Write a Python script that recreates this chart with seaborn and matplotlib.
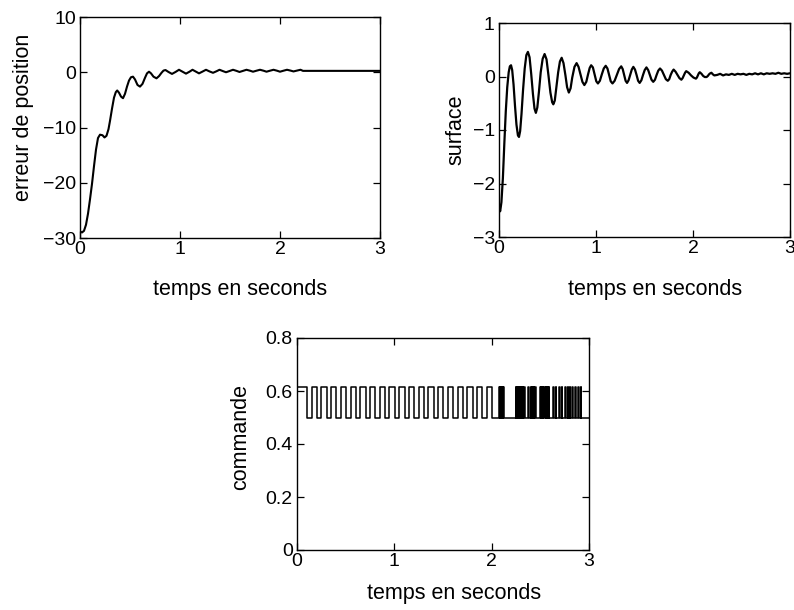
import matplotlib
matplotlib.use("Agg")
import matplotlib.pyplot as plt
import seaborn as sns
import pandas as pd

# ---------------- data ----------------
erreur_t = [0.000, 0.020, 0.040, 0.060, 0.080, 0.100, 0.120, 0.140, 0.160, 0.180, 0.200,
            0.225, 0.245, 0.265, 0.285, 0.300, 0.320, 0.340, 0.358, 0.372, 0.390, 0.410,
            0.430, 0.450, 0.470, 0.490, 0.510, 0.530, 0.550, 0.575, 0.600, 0.625, 0.650,
            0.670, 0.690, 0.710, 0.735, 0.765, 0.790, 0.815, 0.835, 0.855, 0.885, 0.920,
            0.955, 0.990, 1.025, 1.060, 1.095, 1.125, 1.160, 1.190, 1.225, 1.260, 1.295,
            1.330, 1.365, 1.395, 1.430, 1.460, 1.495, 1.530, 1.565, 1.595, 1.630, 1.665,
            1.700, 1.730, 1.765, 1.800, 1.835, 1.865, 1.900, 1.935, 1.970, 2.000, 2.035,
            2.070, 2.105, 2.135, 2.170, 2.205, 2.230, 3.000]
erreur_v = [-28.8, -29.0, -28.7, -27.6, -25.6, -23.0, -20.2, -17.0, -14.0, -11.9, -11.3,
            -11.4, -11.8, -11.5, -10.3, -8.8, -6.6, -4.6, -3.6, -3.3, -3.7, -4.4,
            -4.7, -3.9, -2.6, -1.5, -0.9, -0.8, -1.3, -2.3, -2.6, -2.1, -1.0,
            -0.2, 0.1, -0.2, -0.8, -1.1, -0.7, -0.1, 0.3, 0.4, 0.05, -0.3,
            0.05, 0.45, 0.1, -0.25, 0.1, 0.45, 0.1, -0.2, 0.12, 0.45, 0.15,
            -0.1, 0.18, 0.45, 0.2, 0.0, 0.22, 0.45, 0.25, 0.05, 0.25, 0.45,
            0.28, 0.1, 0.28, 0.45, 0.28, 0.1, 0.28, 0.45, 0.28, 0.1, 0.28,
            0.45, 0.3, 0.15, 0.3, 0.45, 0.25, 0.25]

surface_t = [0.000, 0.012, 0.025, 0.040, 0.055, 0.070, 0.085, 0.100, 0.112, 0.124, 0.136,
             0.150, 0.165, 0.180, 0.195, 0.206, 0.218, 0.232, 0.248, 0.265, 0.282, 0.298,
             0.315, 0.332, 0.350, 0.366, 0.380, 0.395, 0.412, 0.430, 0.450, 0.470, 0.490,
             0.510, 0.530, 0.548, 0.560, 0.575, 0.592, 0.610, 0.628, 0.646, 0.665, 0.685,
             0.702, 0.720, 0.738, 0.755, 0.778, 0.800, 0.820, 0.840, 0.860, 0.880, 0.900,
             0.918, 0.935, 0.950, 0.968, 0.985, 1.003, 1.020, 1.040, 1.060, 1.080, 1.100,
             1.118, 1.135, 1.152, 1.170, 1.192, 1.215, 1.238, 1.260, 1.275, 1.290, 1.305,
             1.320, 1.336, 1.352, 1.369, 1.385, 1.402, 1.418, 1.434, 1.450, 1.468, 1.485,
             1.502, 1.520, 1.538, 1.555, 1.572, 1.590, 1.608, 1.625, 1.642, 1.660, 1.680,
             1.700, 1.720, 1.740, 1.755, 1.770, 1.785, 1.800, 1.820, 1.840, 1.860, 1.880,
             1.893, 1.905, 1.918, 1.930, 1.955, 1.980, 2.005, 2.030, 2.040, 2.050, 2.060,
             2.070, 2.088, 2.105, 2.122, 2.140, 2.153, 2.165, 2.178, 2.190, 2.205, 2.220,
             2.250, 2.280, 2.310, 2.340, 2.370, 2.400, 2.430, 2.460, 2.490, 2.520, 2.550,
             2.580, 2.610, 2.640, 2.670, 2.700, 2.730, 2.760, 2.790, 2.820, 2.850, 2.880,
             2.910, 2.940, 2.970, 3.000]
surface_v = [-2.45, -2.52, -2.35, -1.90, -1.25, -0.65, -0.20, 0.08, 0.19, 0.21, 0.12,
             -0.15, -0.55, -0.90, -1.10, -1.13, -1.02, -0.70, -0.25, 0.15, 0.40, 0.46,
             0.36, 0.05, -0.33, -0.60, -0.68, -0.58, -0.28, 0.08, 0.33, 0.42, 0.32,
             0.02, -0.30, -0.48, -0.52, -0.45, -0.20, 0.08, 0.28, 0.35, 0.25, 0.02,
             -0.20, -0.30, -0.22, -0.02, 0.18, 0.25, 0.18, 0.04, -0.10, -0.16, -0.10,
             0.04, 0.16, 0.21, 0.17, 0.04, -0.09, -0.13, -0.08, 0.04, 0.15, 0.20,
             0.15, 0.03, -0.09, -0.13, -0.08, 0.03, 0.14, 0.19, 0.14, 0.03, -0.08,
             -0.12, -0.07, 0.03, 0.13, 0.18, 0.13, 0.03, -0.08, -0.12, -0.07, 0.03,
             0.12, 0.17, 0.12, 0.03, -0.06, -0.10, -0.06, 0.03, 0.11, 0.15, 0.11,
             0.03, -0.05, -0.08, -0.05, 0.03, 0.09, 0.13, 0.09, 0.03, -0.03, -0.06,
             -0.03, 0.02, 0.07, 0.10, 0.07, 0.02, -0.02, -0.04, -0.02, 0.02, 0.06,
             0.08, 0.05, 0.01, -0.01, -0.01, 0.01, 0.04, 0.06, 0.07, 0.04, 0.02,
             0.03, 0.05, 0.02, 0.04, 0.03, 0.05, 0.03, 0.05, 0.04, 0.05, 0.03,
             0.05, 0.04, 0.06, 0.04, 0.06, 0.04, 0.06, 0.05, 0.06, 0.05, 0.07,
             0.05, 0.06, 0.05, 0.06]

commande_t = [0.00, 0.10,
              0.15, 0.205, 0.25, 0.305, 0.35, 0.405, 0.45, 0.505, 0.55, 0.605,
              0.65, 0.705, 0.75, 0.805, 0.85, 0.905, 0.95, 1.005, 1.05, 1.105,
              1.15, 1.205, 1.25, 1.305, 1.35, 1.405, 1.45, 1.505, 1.55, 1.605,
              1.65, 1.705, 1.75, 1.805, 1.85, 1.905, 1.95, 2.005,
              2.08, 2.085, 2.09, 2.095, 2.10, 2.105, 2.11, 2.115, 2.12, 2.13,
              2.25, 2.255, 2.26, 2.265, 2.27, 2.275, 2.28, 2.285, 2.29, 2.295, 2.30, 2.305,
              2.31, 2.315, 2.32, 2.325, 2.33, 2.34,
              2.37, 2.38,
              2.40, 2.405, 2.41, 2.415, 2.42, 2.425, 2.43, 2.44, 2.45, 2.46,
              2.50, 2.505, 2.51, 2.515, 2.52, 2.525, 2.53, 2.54, 2.55, 2.555, 2.56, 2.565,
              2.57, 2.58, 2.585, 2.59,
              2.63, 2.64, 2.66, 2.665, 2.69, 2.70, 2.72, 2.725, 2.75, 2.76, 2.78, 2.785,
              2.80, 2.805, 2.83, 2.835, 2.86, 2.865, 2.89, 2.895, 2.915, 2.92,
              3.00]
commande_v = [0.615, 0.50,
              0.615, 0.50, 0.615, 0.50, 0.615, 0.50, 0.615, 0.50, 0.615, 0.50,
              0.615, 0.50, 0.615, 0.50, 0.615, 0.50, 0.615, 0.50, 0.615, 0.50,
              0.615, 0.50, 0.615, 0.50, 0.615, 0.50, 0.615, 0.50, 0.615, 0.50,
              0.615, 0.50, 0.615, 0.50, 0.615, 0.50, 0.615, 0.50,
              0.615, 0.50, 0.615, 0.50, 0.615, 0.50, 0.615, 0.50, 0.615, 0.50,
              0.615, 0.50, 0.615, 0.50, 0.615, 0.50, 0.615, 0.50, 0.615, 0.50, 0.615, 0.50,
              0.615, 0.50, 0.615, 0.50, 0.615, 0.50,
              0.615, 0.50,
              0.615, 0.50, 0.615, 0.50, 0.615, 0.50, 0.615, 0.50, 0.615, 0.50,
              0.615, 0.50, 0.615, 0.50, 0.615, 0.50, 0.615, 0.50, 0.615, 0.50, 0.615, 0.50,
              0.615, 0.50, 0.615, 0.50,
              0.615, 0.50, 0.615, 0.50, 0.615, 0.50, 0.615, 0.50, 0.615, 0.50, 0.615, 0.50,
              0.615, 0.50, 0.615, 0.50, 0.615, 0.50, 0.615, 0.50, 0.615, 0.50,
              0.50]

x_ticks = [0, 1, 2, 3]
erreur_ticks = [-30, -20, -10, 0, 10]
surface_ticks = [-3, -2, -1, 0, 1]
commande_ticks = [0, 0.2, 0.4, 0.6, 0.8]
commande_ticklabels = ["0", "0.2", "0.4", "0.6", "0.8"]

xlabel = "temps en seconds"

# ---------------- style ----------------
sns.set_theme(style="ticks")
plt.rcParams.update({
    "font.family": ["Liberation Sans", "DejaVu Sans"],
    "xtick.direction": "in", "ytick.direction": "in",
    "xtick.top": True, "ytick.right": True,
    "xtick.major.size": 5, "ytick.major.size": 5,
    "xtick.major.width": 0.9, "ytick.major.width": 0.9,
    "axes.linewidth": 1.0, "axes.edgecolor": "black",
    "xtick.color": "black", "ytick.color": "black",
    "xtick.labelsize": 14, "ytick.labelsize": 14,
    "axes.labelsize": 15.5, "axes.labelcolor": "black",
    "xtick.major.pad": 2, "ytick.major.pad": 3,
})

W, H = 794, 610
fig = plt.figure(figsize=(W / 100, H / 100), dpi=100)

def rect(l, t, r, b):
    return [l / W, 1 - b / H, (r - l) / W, (b - t) / H]

ax1 = fig.add_axes(rect(80, 17, 380, 238))
ax2 = fig.add_axes(rect(499, 23, 790, 237))
ax3 = fig.add_axes(rect(297, 338, 589, 550))

df1 = pd.DataFrame({"t": erreur_t, "v": erreur_v})
df2 = pd.DataFrame({"t": surface_t, "v": surface_v})
df3 = pd.DataFrame({"t": commande_t, "v": commande_v})

sns.lineplot(data=df1, x="t", y="v", ax=ax1, color="black", lw=1.5,
             estimator=None, sort=False)
sns.lineplot(data=df2, x="t", y="v", ax=ax2, color="black", lw=1.6,
             estimator=None, sort=False)
sns.lineplot(data=df3, x="t", y="v", ax=ax3, color="black", lw=1.1,
             estimator=None, sort=False, drawstyle="steps-post")

ax1.set_ylim(-30, 10)
ax1.set_yticks(erreur_ticks)
ax1.set_ylabel("erreur de position")

ax2.set_ylim(-3, 1)
ax2.set_yticks(surface_ticks)
ax2.set_ylabel("surface")

ax3.set_ylim(0, 0.8)
ax3.set_yticks(commande_ticks)
ax3.set_yticklabels(commande_ticklabels)
ax3.set_ylabel("commande")

for ax in (ax1, ax2, ax3):
    ax.set_xlim(0, 3)
    ax.set_xticks(x_ticks)
    ax.set_xlabel(xlabel)
    for s in ax.spines.values():
        s.set_visible(True)
        s.set_color("black")

# label placement (axes fractions)
ax1.xaxis.set_label_coords(0.533, -0.185)
ax2.xaxis.set_label_coords(0.535, -0.195)
ax3.xaxis.set_label_coords(0.537, -0.155)
ax1.yaxis.set_label_coords(-0.155, 0.545)
ax2.yaxis.set_label_coords(-0.113, 0.50)
ax3.yaxis.set_label_coords(-0.158, 0.533)

fig.savefig("out.png", dpi=100)
